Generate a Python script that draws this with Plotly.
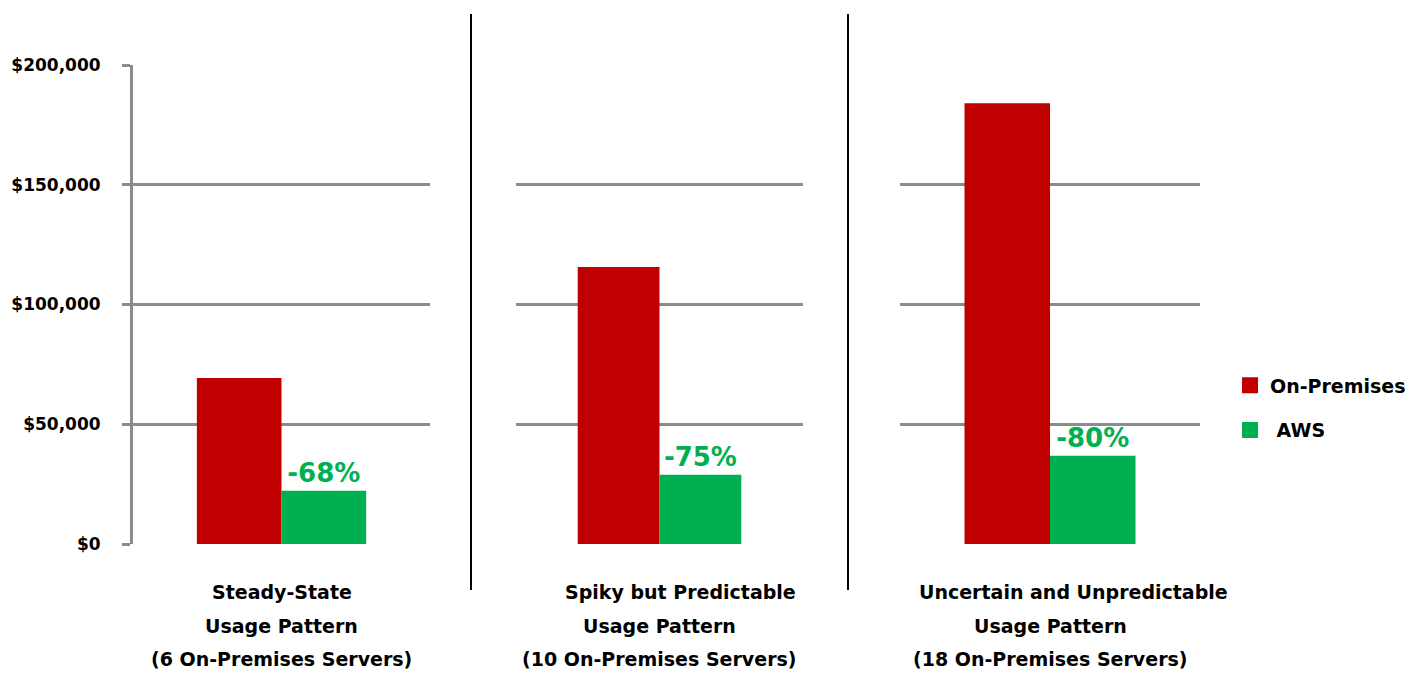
import plotly.graph_objects as go

# ---- data ----
patterns = ["Steady-State", "Spiky but Predictable", "Uncertain and Unpredictable"]
label_lines = [
    ["Steady-State", "Usage Pattern", "(6 On-Premises Servers)"],
    ["Spiky but Predictable", "Usage Pattern", "(10 On-Premises Servers)"],
    ["Uncertain and Unpredictable", "Usage Pattern", "(18 On-Premises Servers)"],
]
on_premises = [69300, 115700, 184000]
aws = [22200, 28900, 36800]
savings_labels = ["-68%", "-75%", "-80%"]
series_names = ["On-Premises", "\u00a0AWS"]
y_ticks = [0, 50000, 100000, 150000, 200000]
y_tick_text = ["$0", "$50,000", "$100,000", "$150,000", "$200,000"]

RED = "#C00000"
GREEN = "#00B050"
GRID = "#8C8C8C"
FONT = "DejaVu Sans"
W, H = 1427, 673

fig = go.Figure()

domains = [(133 / W, 430 / W), (516 / W, 803 / W), (900 / W, 1200 / W)]
y_dom = (1 - 544 / H, 1 - 65 / H)

for i, cat in enumerate(patterns):
    xa = "x" if i == 0 else f"x{i+1}"
    ya = "y" if i == 0 else f"y{i+1}"
    fig.add_trace(go.Bar(
        x=[cat], y=[on_premises[i]], name=series_names[0],
        marker=dict(color=RED, line=dict(width=0)),
        showlegend=False, xaxis=xa, yaxis=ya, hoverinfo="skip",
    ))
    fig.add_trace(go.Bar(
        x=[cat], y=[aws[i]], name=series_names[1],
        marker=dict(color=GREEN, line=dict(width=0)),
        showlegend=False,
        text=[savings_labels[i]], textposition="outside",
        textfont=dict(family=FONT, size=26, color=GREEN, weight="bold"),
        cliponaxis=False,
        xaxis=xa, yaxis=ya, hoverinfo="skip",
    ))

# legend-only entries (square swatches)
for name, col, grp in [(series_names[0], RED, "a"), (series_names[1], GREEN, "b")]:
    fig.add_trace(go.Scatter(
        x=[None], y=[None], mode="markers", name=name, legendgroup=grp,
        marker=dict(symbol="square", size=17, color=col),
        xaxis="x", yaxis="y", showlegend=True, hoverinfo="skip",
    ))

layout = dict(
    width=W, height=H, autosize=False,
    margin=dict(l=0, r=0, t=0, b=0, pad=0),
    paper_bgcolor="white", plot_bgcolor="white",
    barmode="group", bargap=0.43, bargroupgap=0,
    font=dict(family=FONT, color="black"),
    legend=dict(
        x=1230 / W, y=1 - 408 / H, xanchor="left", yanchor="middle",
        traceorder="grouped", tracegroupgap=17,
        font=dict(family=FONT, size=19, color="black", weight="bold"),
        bgcolor="rgba(0,0,0,0)",
    ),
)

for i in range(3):
    xk = "xaxis" if i == 0 else f"xaxis{i+1}"
    yk = "yaxis" if i == 0 else f"yaxis{i+1}"
    ya_ref = "y" if i == 0 else f"y{i+1}"
    xa_ref = "x" if i == 0 else f"x{i+1}"
    layout[xk] = dict(
        domain=list(domains[i]), anchor=ya_ref, automargin=False,
        type="category", categoryorder="array", categoryarray=[patterns[i]],
        range=[-0.5, 0.5],
        showticklabels=False, showgrid=False, zeroline=False,
        showline=False, ticks="", fixedrange=True,
    )
    ydict = dict(
        domain=list(y_dom), anchor=xa_ref, automargin=False,
        range=[0, 200000], tickvals=y_ticks,
        showgrid=True, gridcolor=GRID, gridwidth=3,
        zeroline=False, fixedrange=True,
    )
    if i == 0:
        ydict.update(
            ticktext=y_tick_text, showticklabels=True,
            ticks="outside", ticklen=8, tickwidth=3, tickcolor=GRID,
            showline=True, linecolor=GRID, linewidth=3,
            ticklabelstandoff=18,
            tickfont=dict(family=FONT, size=17, color="black", weight="bold"),
        )
    else:
        ydict.update(showticklabels=False, ticks="", showline=False)
    layout[yk] = ydict

fig.update_layout(**layout)

# Panel separators
for xp in [471, 848]:
    fig.add_shape(type="line", xref="paper", yref="paper",
                  x0=xp / W, x1=xp / W, y0=1 - 590 / H, y1=1 - 14 / H,
                  line=dict(color="black", width=2))

# Category labels (three lines each)
line_y = [592, 626, 659]
first_shift = [0, 21, 23]
for i, lines in enumerate(label_lines):
    xa_ref = "x" if i == 0 else f"x{i+1}"
    for j, txt in enumerate(lines):
        fig.add_annotation(
            x=0, xref=xa_ref, y=1 - line_y[j] / H, yref="paper",
            text=txt, showarrow=False, xanchor="center", yanchor="middle",
            xshift=first_shift[i] if j == 0 else 0,
            font=dict(family=FONT, size=19, color="black", weight="bold"),
        )

fig.write_html(
    "out.html",
    config={"displayModeBar": False, "staticPlot": True},
    post_script="document.body.style.margin='0';document.body.style.padding='0';",
)
